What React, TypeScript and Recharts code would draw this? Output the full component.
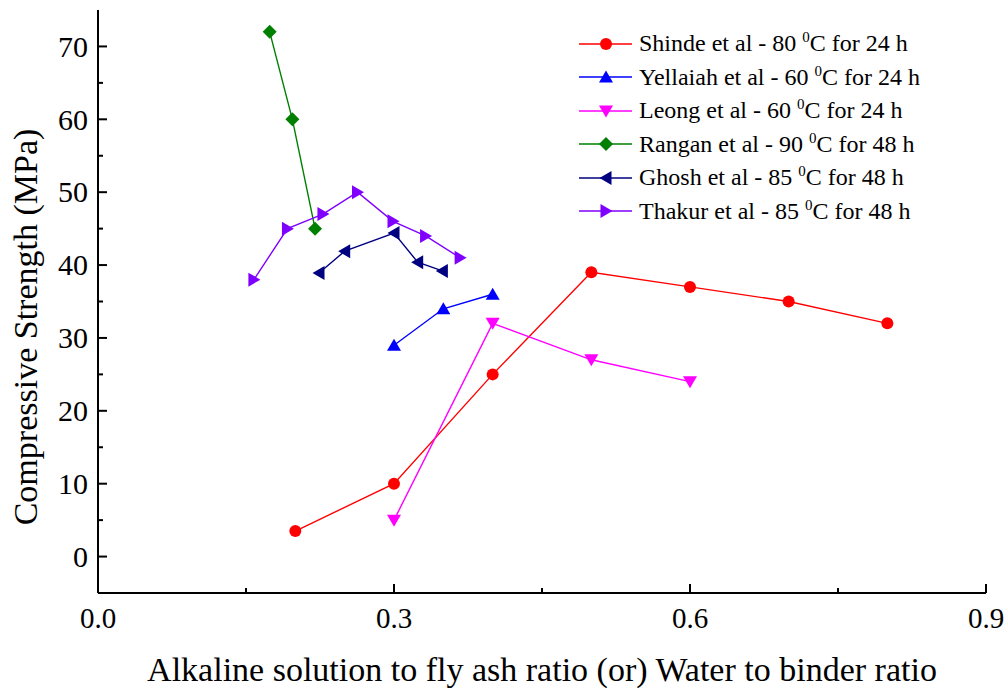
import { ScatterChart, Scatter, XAxis, YAxis, Legend } from "recharts";

// Shinde et al - 80 °C for 24 h
const shindeX = [0.2, 0.3, 0.4, 0.5, 0.6, 0.7, 0.8];
const shindeY = [3.5, 10, 25, 39, 37, 35, 32];
// Yellaiah et al - 60 °C for 24 h
const yellaiahX = [0.3, 0.35, 0.4];
const yellaiahY = [29, 34, 36];
// Leong et al - 60 °C for 24 h
const leongX = [0.3, 0.4, 0.5, 0.6];
const leongY = [5, 32, 27, 24];
// Rangan et al - 90 °C for 48 h
const ranganX = [0.174, 0.197, 0.22];
const ranganY = [72, 60, 45];
// Ghosh et al - 85 °C for 48 h
const ghoshX = [0.224, 0.25, 0.3, 0.324, 0.349];
const ghoshY = [38.9, 41.9, 44.4, 40.4, 39.2];
// Thakur et al - 85 °C for 48 h
const thakurX = [0.158, 0.192, 0.228, 0.263, 0.299, 0.332, 0.367];
const thakurY = [38, 45, 47, 50, 46, 44, 41];

const xTicks = [0, 0.15, 0.3, 0.45, 0.6, 0.75, 0.9];
const xMajor = [0, 0.3, 0.6, 0.9];
const yTicks = [0, 5, 10, 15, 20, 25, 30, 35, 40, 45, 50, 55, 60, 65, 70];
const yMajor = [0, 10, 20, 30, 40, 50, 60, 70];

const FONT = "Liberation Serif, DejaVu Serif, serif";

type Kind = "circle" | "up" | "down" | "diamond" | "left" | "right";

function marker(kind: Kind, color: string, cx: number, cy: number) {
  const s = 6.5;
  switch (kind) {
    case "circle":
      return <circle cx={cx} cy={cy} r={6} fill={color} />;
    case "up":
      return <polygon points={`${cx},${cy - s} ${cx - s - 0.5},${cy + s - 1} ${cx + s + 0.5},${cy + s - 1}`} fill={color} />;
    case "down":
      return <polygon points={`${cx},${cy + s} ${cx - s - 0.5},${cy - s + 1} ${cx + s + 0.5},${cy - s + 1}`} fill={color} />;
    case "left":
      return <polygon points={`${cx - s},${cy} ${cx + s - 1},${cy - s - 0.5} ${cx + s - 1},${cy + s + 0.5}`} fill={color} />;
    case "right":
      return <polygon points={`${cx + s},${cy} ${cx - s + 1},${cy - s - 0.5} ${cx - s + 1},${cy + s + 0.5}`} fill={color} />;
    default:
      return <polygon points={`${cx},${cy - 7} ${cx + 7},${cy} ${cx},${cy + 7} ${cx - 7},${cy}`} fill={color} />;
  }
}

const zip = (xs: number[], ys: number[]) => xs.map((x, i) => ({ x, y: ys[i] }));

const series = [
  { name: "Shinde et al - 80 ", temp: "C for 24 h", color: "#ff0000", kind: "circle" as Kind, data: zip(shindeX, shindeY) },
  { name: "Yellaiah et al - 60 ", temp: "C for 24 h", color: "#0000ff", kind: "up" as Kind, data: zip(yellaiahX, yellaiahY) },
  { name: "Leong et al - 60 ", temp: "C for 24 h", color: "#ff00ff", kind: "down" as Kind, data: zip(leongX, leongY) },
  { name: "Rangan et al - 90 ", temp: "C for 48 h", color: "#008000", kind: "diamond" as Kind, data: zip(ranganX, ranganY) },
  { name: "Ghosh et al - 85 ", temp: "C for 48 h", color: "#000080", kind: "left" as Kind, data: zip(ghoshX, ghoshY) },
  { name: "Thakur et al - 85 ", temp: "C for 48 h", color: "#8000ff", kind: "right" as Kind, data: zip(thakurX, thakurY) },
];

const GAP = 10;

const BottomTick = (p: any) => {
  const v = p.payload.value;
  const major = xMajor.some((m) => Math.abs(m - v) < 1e-9);
  const ay = p.y - GAP;
  return (
    <g>
      <line x1={p.x} x2={p.x} y1={ay} y2={ay - (major ? 9 : 5)} stroke="#000" strokeWidth={2} />
      {major && (
        <text x={p.x} y={ay + 35} textAnchor="middle" style={{ fontFamily: FONT }} fontSize={29} fill="#000">
          {v.toFixed(1)}
        </text>
      )}
    </g>
  );
};

const TopTick = (p: any) => {
  const v = p.payload.value;
  const major = xMajor.some((m) => Math.abs(m - v) < 1e-9);
  const ay = p.y + GAP;
  return <line x1={p.x} x2={p.x} y1={ay} y2={ay + (major ? 9 : 5)} stroke="#000" strokeWidth={2} />;
};

const LeftTick = (p: any) => {
  const v = p.payload.value;
  const major = yMajor.includes(v);
  const ax = p.x + GAP;
  return (
    <g>
      <line x1={ax} x2={ax + (major ? 9 : 5)} y1={p.y} y2={p.y} stroke="#000" strokeWidth={2} />
      {major && (
        <text x={ax - 10} y={p.y} dy="0.34em" textAnchor="end" style={{ fontFamily: FONT }} fontSize={30} fill="#000">
          {v}
        </text>
      )}
    </g>
  );
};

const RightTick = (p: any) => {
  const v = p.payload.value;
  const major = yMajor.includes(v);
  const ax = p.x - GAP;
  return <line x1={ax} x2={ax - (major ? 9 : 5)} y1={p.y} y2={p.y} stroke="#000" strokeWidth={2} />;
};

const LegendBox = () => (
  <div style={{ fontFamily: FONT, fontSize: 24, color: "#000" }}>
    {series.map((s) => (
      <div key={s.name} style={{ display: "flex", alignItems: "center", height: 33.5, whiteSpace: "nowrap" }}>
        <svg width={60} height={20} style={{ flex: "none" }}>
          <line x1={0} x2={53} y1={10} y2={10} stroke={s.color} strokeWidth={1.5} />
          {marker(s.kind, s.color, 27, 10)}
        </svg>
        <span>
          {s.name}
          <span style={{ fontSize: 15, position: "relative", top: -9 }}>0</span>
          {s.temp}
        </span>
      </div>
    ))}
  </div>
);

export default function App() {
  return (
    <div style={{ position: "absolute", left: 0, top: 0, background: "#fff", fontFamily: FONT }}>
      <ScatterChart width={1005} height={689} margin={{ top: 10, right: 19, bottom: 0, left: 0 }}>
        <XAxis
          type="number"
          dataKey="x"
          domain={[0, 0.9]}
          ticks={xTicks}
          interval={0}
          height={96}
          tickSize={0}
          tickMargin={GAP}
          tickLine={false}
          tick={<BottomTick />}
          axisLine={{ stroke: "#000", strokeWidth: 2 }}
          allowDataOverflow
          label={{
            content: (p: any) => (
              <text
                x={p.viewBox.x + p.viewBox.width / 2}
                y={681}
                textAnchor="middle"
                style={{ fontFamily: FONT }}
                fontSize={34}
                fill="#000"
              >
                Alkaline solution to fly ash ratio (or) Water to binder ratio
              </text>
            ),
          }}
        />
        <XAxis
          xAxisId="top"
          orientation="top"
          type="number"
          dataKey="x"
          domain={[0, 0.9]}
          ticks={xTicks}
          interval={0}
          height={0}
          tickSize={0}
          tickMargin={GAP}
          tickLine={false}
          tick={<TopTick />}
          axisLine={{ stroke: "#000", strokeWidth: 2 }}
        />
        <YAxis
          type="number"
          dataKey="y"
          domain={[-5, 75]}
          ticks={yTicks}
          interval={0}
          width={98}
          tickSize={0}
          tickMargin={GAP}
          tickLine={false}
          tick={<LeftTick />}
          axisLine={{ stroke: "#000", strokeWidth: 2 }}
          allowDataOverflow
          label={{
            content: () => (
              <text
                x={37}
                y={327}
                transform="rotate(-90 37 327)"
                textAnchor="middle"
                style={{ fontFamily: FONT }}
                fontSize={34}
                fill="#000"
              >
                Compressive Strength (MPa)
              </text>
            ),
          }}
        />
        <YAxis
          yAxisId="right"
          orientation="right"
          type="number"
          dataKey="y"
          domain={[-5, 75]}
          ticks={yTicks}
          interval={0}
          width={0}
          tickSize={0}
          tickMargin={GAP}
          tickLine={false}
          tick={<RightTick />}
          axisLine={{ stroke: "#000", strokeWidth: 2 }}
        />
        <Legend
          layout="vertical"
          align="center"
          verticalAlign="middle"
          content={<LegendBox />}
          wrapperStyle={{ left: 579, top: 27, width: 400 }}
        />
        {series.map((s) => (
          <Scatter
            key={s.name}
            name={s.name}
            data={s.data}
            fill={s.color}
            line={{ stroke: s.color, strokeWidth: 1.4 }}
            shape={(p: any) => marker(s.kind, s.color, p.cx, p.cy)}
            isAnimationActive={false}
          />
        ))}
      </ScatterChart>
    </div>
  );
}
